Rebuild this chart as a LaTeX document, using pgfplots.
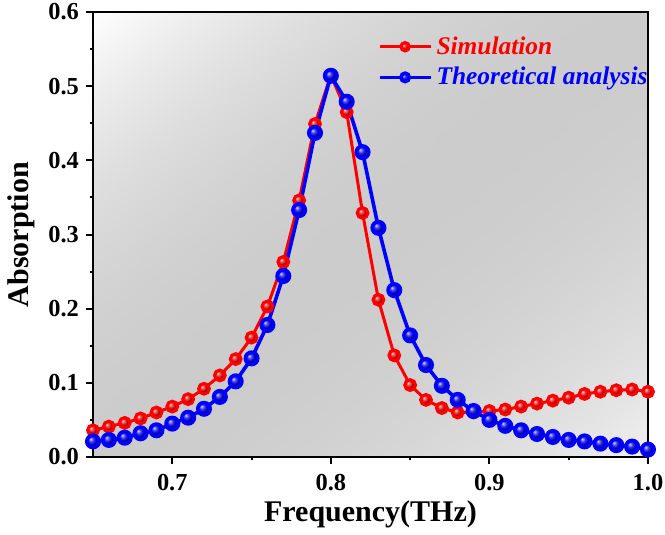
\documentclass[border=0pt]{standalone}
\usepackage{pgfplots}
\pgfplotsset{compat=1.18}
\usepackage{fontspec}
\setmainfont{Liberation Serif}
\pgfdeclarefunctionalshading{bgshade}{\pgfpoint{0bp}{0bp}}{\pgfpoint{100bp}{100bp}}{}{
  sub 50 add 100 div
  0.5 sub dup dup mul exch
  0 lt {0.80} {0.56} ifelse mul 0.80 add
  dup 1 gt {pop 1} if
  dup dup
}
\pgfplotstableread{
f sim theo
0.65 0.036 0.021
0.66 0.041 0.023
0.67 0.046 0.026
0.68 0.052 0.032
0.69 0.060 0.036
0.70 0.068 0.045
0.71 0.078 0.053
0.72 0.092 0.065
0.73 0.110 0.081
0.74 0.132 0.102
0.75 0.161 0.133
0.76 0.203 0.178
0.77 0.263 0.244
0.78 0.346 0.333
0.79 0.449 0.437
0.80 0.515 0.514
0.81 0.465 0.479
0.82 0.329 0.411
0.83 0.212 0.309
0.84 0.137 0.225
0.85 0.097 0.164
0.86 0.077 0.124
0.87 0.066 0.096
0.88 0.060 0.077
0.89 0.060 0.062
0.90 0.062 0.050
0.91 0.064 0.042
0.92 0.068 0.036
0.93 0.072 0.031
0.94 0.076 0.027
0.95 0.080 0.023
0.96 0.085 0.021
0.97 0.088 0.018
0.98 0.090 0.016
0.99 0.091 0.014
1.00 0.088 0.010
}\data
\begin{document}
\begin{tikzpicture}
\path[use as bounding box] (-46.5pt,-39pt) rectangle (286pt,228.5pt);
\begin{axis}[
  at={(0,0)}, anchor=south west,
  scale only axis,
  width=277.5pt, height=222.5pt,
  xmin=0.65, xmax=1.0, ymin=0, ymax=0.6,
  xtick={0.7,0.8,0.9,1.0},
  ytick={0,0.1,0.2,0.3,0.4,0.5,0.6},
  minor x tick num=1, minor y tick num=1,
  tick pos=left, tick align=outside,
  major tick length=3.5pt, minor tick length=1.6pt,
  every tick/.style={line width=1pt, black},
  axis line style={line width=1.1pt},
  /pgf/number format/assume math mode=true,
  /pgf/number format/.cd, fixed, fixed zerofill, precision=1, /pgfplots/.cd,
  tick label style={font=\fontsize{12.2}{14}\selectfont\bfseries},
  xticklabel style={yshift=-1.5pt},
  xlabel={Frequency(THz)}, ylabel={Absorption},
  label style={font=\fontsize{15}{18}\selectfont\bfseries},
  xlabel style={at={(axis description cs:0.5,-0.146)}, anchor=base, inner sep=0pt},
  ylabel style={at={(axis description cs:-0.104,0.5)}, anchor=south, inner sep=0pt},
  axis background/.style={shade, shading=bgshade},
  legend style={draw=none, fill=none, at={(axis description cs:1.007,0.955)}, anchor=north east,
    inner sep=0pt,
    font=\fontsize{12.7}{15}\selectfont\bfseries\itshape, row sep=1pt,
    /tikz/every even column/.append style={column sep=2pt}},
  legend cell align=left,
  legend image code/.code={\draw[mark repeat=2,mark phase=2,#1,mark size=2.1pt] plot coordinates {(0cm,0cm) (0.45cm,0cm) (0.9cm,0cm)};},
]
\addplot[red, line width=1.5pt, mark=ball, mark size=2.7pt, mark options={ball color=red}] table[x=f, y=sim] {\data};
\addlegendentry{\textcolor{red}{Simulation}}
\addplot[blue, line width=1.8pt, mark=ball, mark size=3.1pt, mark options={ball color=blue}] table[x=f, y=theo] {\data};
\addlegendentry{\textcolor{blue}{Theoretical analysis}}
\end{axis}
\end{tikzpicture}
\end{document}
